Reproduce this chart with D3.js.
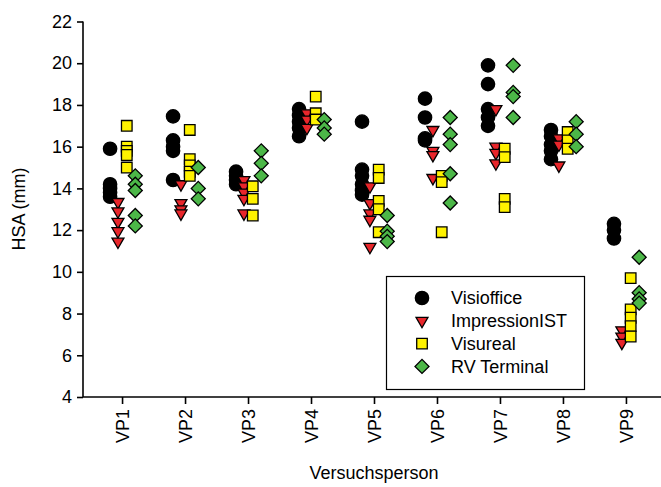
<!DOCTYPE html>
<html><head><meta charset="utf-8">
<script src="https://cdn.jsdelivr.net/npm/d3@7"></script>
<style>body{margin:0;background:#fff;}svg{display:block;}</style>
</head><body>
<svg id="c" width="661" height="487"></svg>
<script>
const categories = ["VP1","VP2","VP3","VP4","VP5","VP6","VP7","VP8","VP9"];
const yTicks = [4,6,8,10,12,14,16,18,20,22];
const seriesNames = ["Visioffice","ImpressionIST","Visureal","RV Terminal"];
const visioffice = [
  [15.9,14.2,14.0,13.8,13.6],
  [17.45,16.3,16.0,15.8,14.4],
  [14.8,14.6,14.4,14.2],
  [17.8,17.5,17.2,16.9,16.5],
  [17.2,14.9,14.6,14.2,13.9,13.7],
  [18.3,17.4,16.4,16.3],
  [19.9,19.0,17.8,17.4,17.0],
  [16.8,16.5,16.1,15.8,15.4],
  [12.3,12.0,11.6]
];
const impressionIST = [
  [13.35,12.9,12.4,11.95,11.45],
  [14.2,13.3,13.0,12.8],
  [14.4,14.1,13.8,13.5,12.8],
  [17.6,17.3,16.9],
  [14.1,13.3,12.8,12.5,11.2],
  [16.8,15.8,15.6,14.5],
  [17.8,16.0,15.7,15.2],
  [16.4,16.1,15.1],
  [7.2,6.9,6.6]
];
const visureal = [
  [17.0,16.0,15.8,15.6,15.0],
  [16.8,15.4,15.1,14.8,14.6],
  [14.1,13.5,12.7],
  [18.4,17.6,17.3],
  [14.9,14.5,13.4,13.0,11.9],
  [14.6,14.3,11.9],
  [15.9,15.5,13.5,13.1],
  [16.7,16.3,15.9],
  [9.7,8.2,7.8,7.4,6.9]
];
const rvTerminal = [
  [14.6,14.2,13.9,12.7,12.2],
  [15.0,14.0,13.5],
  [15.8,15.2,14.6],
  [17.3,16.9,16.6],
  [12.7,11.95,11.7,11.45],
  [17.4,16.6,16.1,14.7,13.3],
  [19.9,18.6,18.4,17.4],
  [17.2,16.6,16.0],
  [10.7,9.0,8.7,8.5]
];

const svg = d3.select("#c");
const font = "'Liberation Sans', Arial, sans-serif";
const fs = "18px";
const x = d3.scaleLinear().domain([0.38, 9.62]).range([83, 665]);
const y = d3.scaleLinear().domain([4, 22]).range([397, 21.5]);

// axes
const yAxis = d3.axisLeft(y).tickValues(yTicks).tickSize(6).tickPadding(5);
const gy = svg.append("g").attr("transform","translate(83,0)").call(yAxis);
const xAxis = d3.axisBottom(x).tickValues(d3.range(1,10)).tickSize(7).tickFormat((d)=>categories[d-1]);
const gx = svg.append("g").attr("transform","translate(0,397)").call(xAxis);
[gx,gy].forEach(g=>{
  g.select(".domain").attr("stroke","#000").attr("stroke-width",1.6);
  g.selectAll(".tick line").attr("stroke","#000").attr("stroke-width",1.6);
  g.selectAll("text").attr("fill","#000").style("font-family",font).style("font-size",fs);
});
gx.select(".domain").attr("d","M83,0H665");
gy.select(".domain").attr("d","M0,397V21.5");
gx.selectAll(".tick text")
  .attr("transform","rotate(-90)")
  .attr("text-anchor","end")
  .attr("x",-12).attr("y",0).attr("dy","0.36em");

svg.append("text").attr("x",374).attr("y",479).attr("text-anchor","middle")
  .style("font-family",font).style("font-size",fs).text("Versuchsperson");
svg.append("text").attr("transform","translate(25,209) rotate(-90)").attr("text-anchor","middle")
  .style("font-family",font).style("font-size",fs).text("HSA (mm)");

const styles = [
  {data: visioffice, off: -0.19, type: d3.symbolCircle, size: 140, fill: "#000", rot: 0},
  {data: impressionIST, off: -0.065, type: d3.symbolTriangle, size: 62, fill: "#e8262b", rot: 180},
  {data: visureal, off: 0.075, type: d3.symbolSquare, size: 112, fill: "#fff200", rot: 0},
  {data: rvTerminal, off: 0.21, type: d3.symbolSquare, size: 98, fill: "#4cb748", rot: 45}
];

styles.forEach(s=>{
  const pts = [];
  s.data.forEach((vals,i)=>vals.forEach(v=>pts.push({c:i+1,v})));
  svg.append("g").selectAll("path").data(pts).join("path")
    .attr("d", d3.symbol().type(s.type).size(s.size))
    .attr("transform", d=>`translate(${x(d.c + s.off)},${y(d.v)}) rotate(${s.rot})`)
    .attr("fill", s.fill).attr("stroke","#000").attr("stroke-width",1.3);
});

// legend
const lg = svg.append("g");
lg.append("rect").attr("x",386.5).attr("y",276.5).attr("width",198).attr("height",113)
  .attr("fill","#fff").attr("stroke","#000").attr("stroke-width",1.2);
styles.forEach((s,i)=>{
  const yy = 298 + i*22.8;
  lg.append("path").attr("d", d3.symbol().type(s.type).size(s.size))
    .attr("transform",`translate(422,${yy}) rotate(${s.rot})`)
    .attr("fill", s.fill).attr("stroke","#000").attr("stroke-width",1.3);
  lg.append("text").attr("x",451).attr("y",yy).attr("dy","0.36em")
    .style("font-family",font).style("font-size",fs).text(seriesNames[i]);
});
</script>
</body></html>
